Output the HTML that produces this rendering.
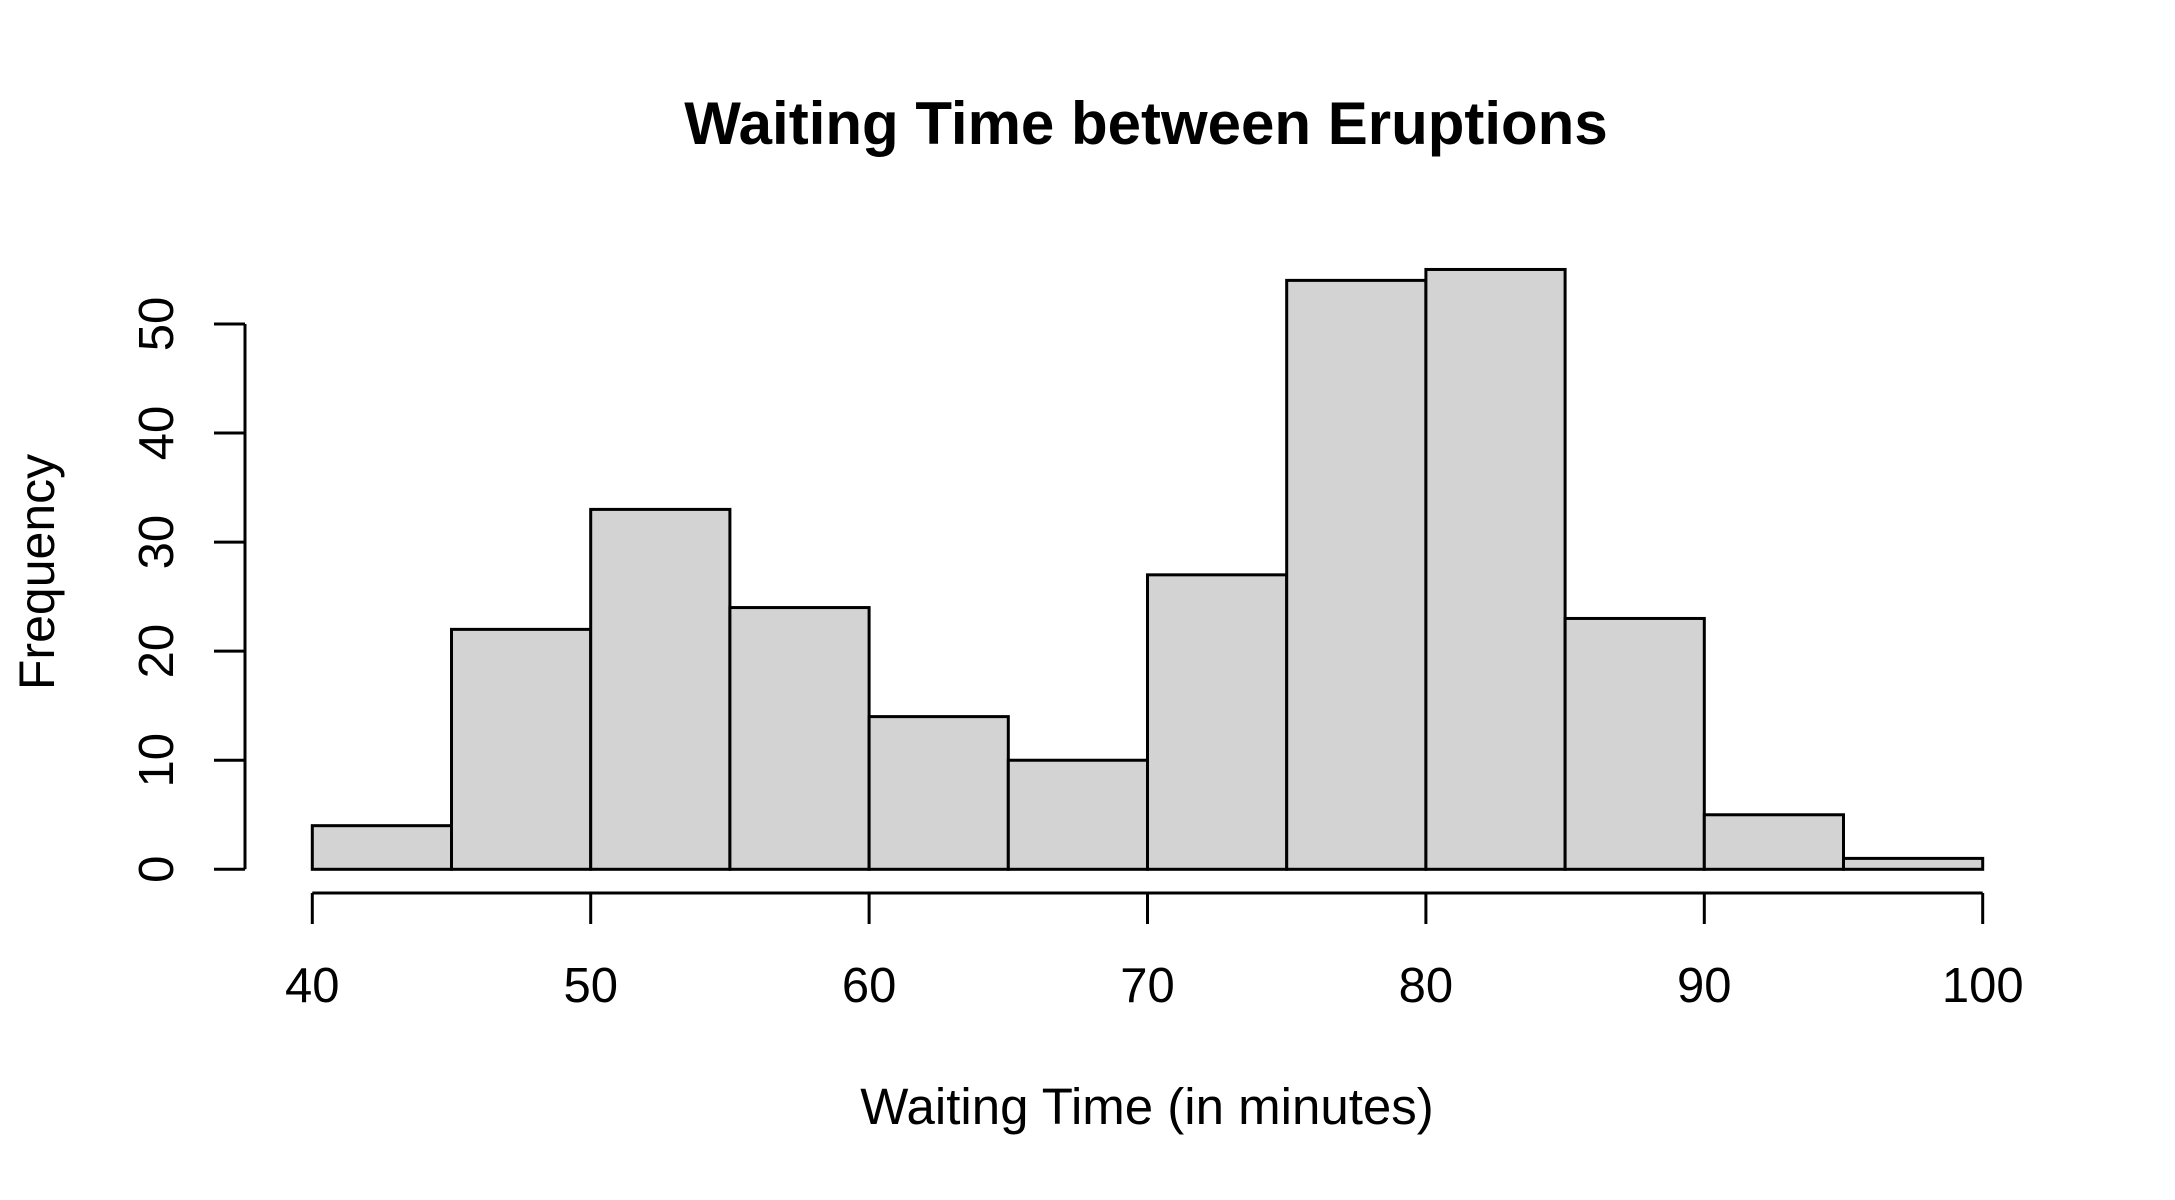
<!DOCTYPE html>
<html><head><meta charset="utf-8"><style>html,body{margin:0;padding:0;background:#fff}svg{display:block}text{font-family:"Liberation Sans",Arial,sans-serif;fill:#000}</style></head>
<body>
<svg id="chart" width="2175" height="1200" viewBox="0 0 2175 1200" xmlns="http://www.w3.org/2000/svg">
<rect width="2175" height="1200" fill="#fff"/>
<text x="1146" y="144" font-size="60" font-weight="bold" text-anchor="middle">Waiting Time between Eruptions</text>
<text x="1147" y="1124" font-size="51" text-anchor="middle">Waiting Time (in minutes)</text>
<text transform="translate(54,572) rotate(-90)" font-size="50" text-anchor="middle">Frequency</text>
<g id="bars"></g><g id="xaxis"></g><g id="yaxis"></g>
</svg>
<script>
const binEdges = [40,45,50,55,60,65,70,75,80,85,90,95,100];
const counts = [4,22,33,24,14,10,27,54,55,23,5,1];
const xTicks = [40,50,60,70,80,90,100];
const yTicks = [0,10,20,30,40,50];
const NS = "http://www.w3.org/2000/svg";
function sx(v){ return 312.3 + (v-40)*27.84; }
function sy(v){ return 869.3 - v*10.906; }
function mk(tag, attrs, parent){ const e=document.createElementNS(NS,tag); for(const k in attrs) e.setAttribute(k,attrs[k]); parent.appendChild(e); return e; }
const bars=document.getElementById('bars'), xa=document.getElementById('xaxis'), ya=document.getElementById('yaxis');
counts.forEach((c,i)=>{
  const x0=sx(binEdges[i]), x1=sx(binEdges[i+1]);
  const r=mk('rect',{x:x0,y:sy(c),width:x1-x0,height:sy(0)-sy(c),fill:'#d3d3d3',stroke:'#000','stroke-width':3},bars);
  
  
});
const xl=mk('line',{x1:sx(xTicks[0]),x2:sx(xTicks[xTicks.length-1]),y1:893,y2:893,stroke:'#000','stroke-width':3},xa);


xTicks.forEach(t=>{
  const l=mk('line',{x1:sx(t),x2:sx(t),y1:893,y2:924,stroke:'#000','stroke-width':3},xa);
  
  
  const tx=mk('text',{x:sx(t),y:1002,'font-size':49,'text-anchor':'middle'},xa);
  tx.textContent=t;
  
  
});
const yl=mk('line',{x1:245,x2:245,y1:sy(yTicks[0]),y2:sy(yTicks[yTicks.length-1]),stroke:'#000','stroke-width':3},ya);


yTicks.forEach(t=>{
  const l=mk('line',{x1:214,x2:245,y1:sy(t),y2:sy(t),stroke:'#000','stroke-width':3},ya);
  
  
  const tx=mk('text',{transform:'translate(173,'+sy(t)+') rotate(-90)','font-size':49,'text-anchor':'middle'},ya);
  tx.textContent=t;
  
  
});
</script>
</body></html>
